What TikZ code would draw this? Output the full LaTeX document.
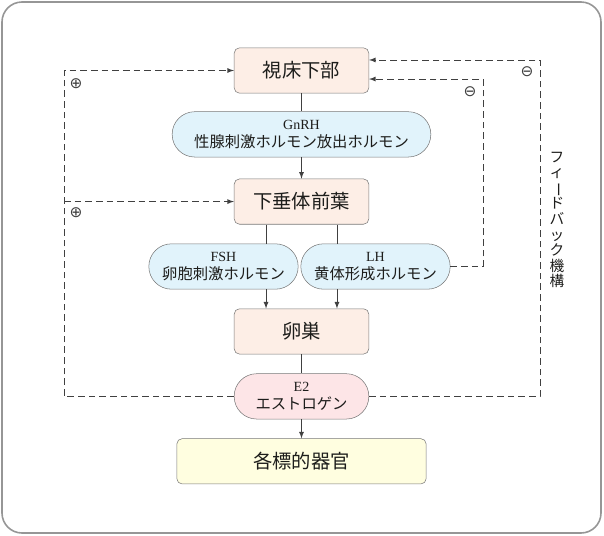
\documentclass[tikz,border=0pt]{standalone}
\usepackage{fontspec}
\setmainfont{Liberation Serif}
\newfontfamily\jpfont{Noto Sans CJK JP}
\newfontfamily\symfont{DejaVu Sans}
\usetikzlibrary{positioning,arrows}
\definecolor{colortext}  {RGB}{29 ,29 ,27 }
\definecolor{colorline}  {RGB}{64 ,64 ,64 }
\definecolor{colorborder}{RGB}{120,120,120}
\definecolor{colorframe}{RGB}{150,150,150}
\definecolor{colororgan} {RGB}{253,238,230}
\definecolor{colorhorm}  {RGB}{225,243,251}
\definecolor{colorestr}  {RGB}{253,229,231}
\definecolor{colortarget}{RGB}{255,254,224}

\begin{document}
\begin{tikzpicture}[
    x=0.75pt, y=-0.75pt,
    node distance = 14.3pt, auto,
    font={\jpfont},
    organ/.style={draw=colorborder,fill=colororgan,rounded corners=4pt,
        minimum width=101pt,minimum height=34pt,text=colortext,
        font={\jpfont\fontsize{14.5}{16}\selectfont}},
    horm/.style={draw=colorborder,fill=colorhorm,rounded corners=16.9pt,
        minimum height=34pt,inner sep=0pt,align=center,text=colortext,
        font={\jpfont\fontsize{11.5}{14}\selectfont}},
    conn/.style={colorline,line width=0.7pt},
    fb/.style={colorline,line width=0.7pt,dash pattern=on 5pt off 3pt},
    sign/.style={text=colorline,font={\symfont\fontsize{11.5}{12}\selectfont},inner sep=0pt},
    vtxt/.style={text=colortext,align=center,inner sep=0pt,
        font={\jpfont\fontsize{11}{11.7}\selectfont}},
]
    \newcommand{\ab}[1]{{\rmfamily\fontsize{10.5}{12}\selectfont #1}}

    \useasboundingbox (0,0) rectangle (604,536);
    \draw[colorframe,line width=1.2pt,rounded corners=15pt] (2,2) rectangle (601,533);

    \node[organ]                          (hypo)   at (301.5,70.5) {視床下部};
    \node[horm,minimum width=194pt,below=13.5pt of hypo] (gnrh) {\ab{GnRH}\\性腺刺激ホルモン放出ホルモン};
    \node[organ,below=16pt of gnrh]       (ant)    {下垂体前葉};
    \node[horm,minimum width=112pt,below=of ant,xshift=-58.5pt] (fsh) {\ab{FSH}\\卵胞刺激ホルモン};
    \node[horm,minimum width=112pt,below=of ant,xshift=55.5pt]  (lh)  {\ab{LH}\\黄体形成ホルモン};
    \coordinate (hsouth) at (fsh.south -| ant);
    \node[organ,below=of hsouth]          (ovary)  {卵巣};
    \node[horm,fill=colorestr,minimum width=101pt,below=of ovary] (e2) {\ab{E2}\\エストロゲン};
    \node[organ,fill=colortarget,minimum width=187pt,below=of e2] (target) {各標的器官};

    % main axis
    \draw[conn]        (hypo) -- (gnrh);
    \draw[conn,-latex] (gnrh) -- (ant);
    \draw[conn] ([xshift=-26.6pt]ant.south) -- ([xshift=-26.6pt]ant.south |- fsh.north);
    \draw[conn] ([xshift=26.6pt]ant.south)  -- ([xshift=26.6pt]ant.south |- lh.north);
    \draw[conn,-latex] ([xshift=-26.6pt]ovary.north |- fsh.south) -- ([xshift=-26.6pt]ovary.north);
    \draw[conn,-latex] ([xshift=26.6pt]ovary.north |- lh.south)   -- ([xshift=26.6pt]ovary.north);
    \draw[conn]        (ovary) -- (e2);
    \draw[conn,-latex] (e2) -- (target);

    % feedback
    \coordinate (lx)  at (64,0);
    \coordinate (rx)  at (540,0);
    \coordinate (rix) at (483,0);
    \draw[fb,-latex] (e2.west) -- (e2.west -| lx) |- (hypo.west);
    \draw[fb,-latex] (ant.west -| lx) -- (ant.west);
    \draw[fb,-latex] (e2.east) -- (e2.east -| rx) |- ([yshift=7.9pt]hypo.east);
    \draw[fb,-latex] (lh.east) -- (lh.east -| rix) |- ([yshift=-6.4pt]hypo.east);

    \node[sign] (plus1)  at (76,84)  {⊕};
    \node[sign] (plus2)  at (76,213) {⊕};
    \node[sign] (minus1) at (527,72) {⊖};
    \node[sign] (minus2) at (470,92) {⊖};

    \node[vtxt] (fbtext) at (557,220)
        {フ\\ィ\\\rotatebox[origin=c]{-90}{ー}\\ド\\バ\\ッ\\ク\\機\\構};
\end{tikzpicture}
\end{document}
